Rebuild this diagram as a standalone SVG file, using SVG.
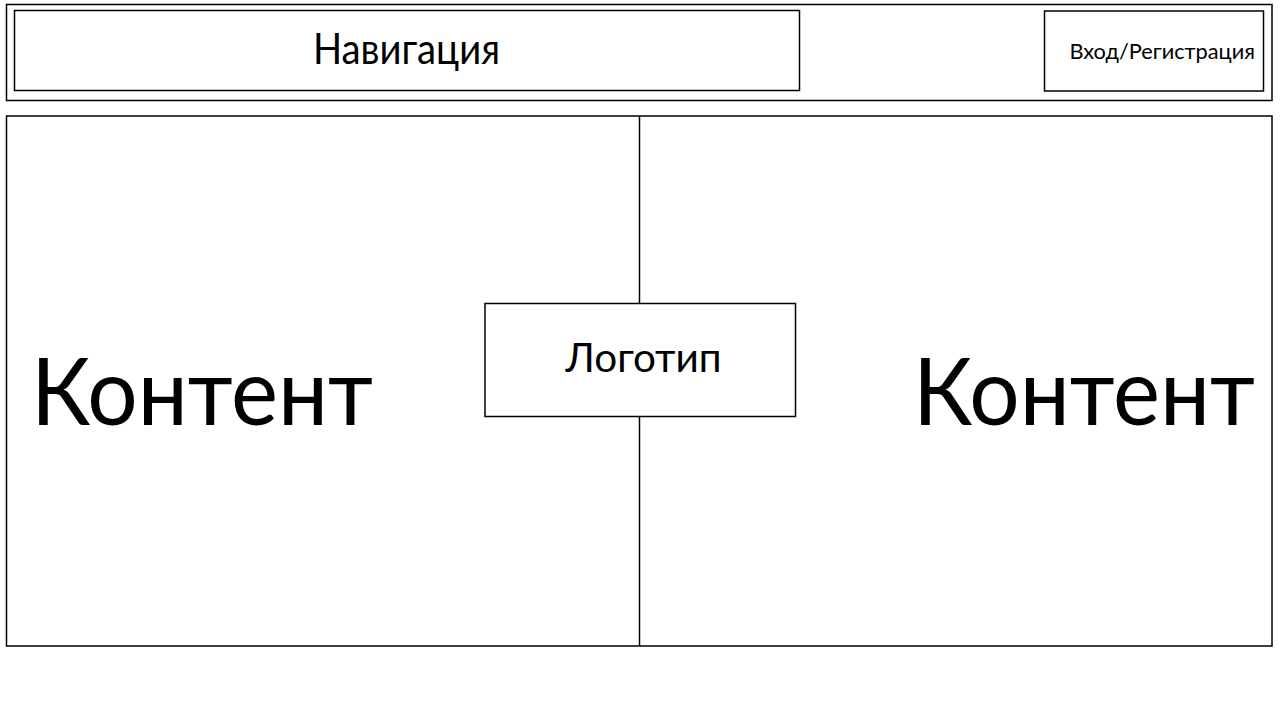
<svg xmlns="http://www.w3.org/2000/svg" width="1280" height="720" viewBox="0 0 1280 720">
<style>
.box{fill:#fff;stroke:#000;stroke-width:1.5}
.ln{stroke:#000;stroke-width:1.5;fill:none}
text{font-family:Lato,"Noto Sans","Open Sans",sans-serif;fill:#000}
</style>
<rect width="1280" height="720" fill="#fff"/>
<g id="header"><rect class="box" x="6.5" y="4.5" width="1265.5" height="96"/></g>
<g id="content-area"><rect class="box" x="6.5" y="116" width="1265.5" height="530"/></g>
<g id="connectors">
<line class="ln" x1="639.5" y1="116" x2="639.5" y2="303.5"/>
<line class="ln" x1="639.5" y1="416.5" x2="639.5" y2="646"/>
</g>
<g id="nav"><rect class="box" x="14.5" y="10.5" width="785" height="80"/>
<text x="313" y="63.5" font-size="43" textLength="187" lengthAdjust="spacingAndGlyphs">Навигация</text></g>
<g id="login"><rect class="box" x="1044.5" y="11" width="219" height="80"/>
<text x="1069.5" y="59" font-size="22" textLength="185.5" lengthAdjust="spacingAndGlyphs">Вход/Регистрация</text></g>
<g id="logo"><rect class="box" x="485" y="303.5" width="310.5" height="113"/>
<text x="565.5" y="371.7" font-size="40" textLength="156" lengthAdjust="spacingAndGlyphs">Логотип</text></g>
<g id="content-left"><text x="31" y="425" font-size="94" textLength="342" lengthAdjust="spacingAndGlyphs">Контент</text></g>
<g id="content-right"><text x="913" y="425" font-size="94" textLength="342" lengthAdjust="spacingAndGlyphs">Контент</text></g>
</svg>
